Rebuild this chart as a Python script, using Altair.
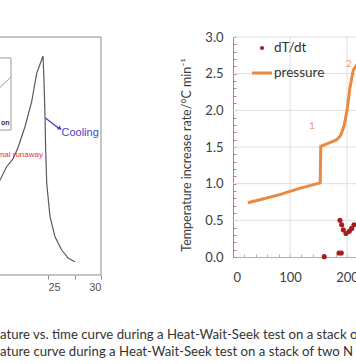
import altair as alt
import pandas as pd

# ---------------- data ----------------
# left panel: temperature (relative units) vs. time
left_time = [20.30, 20.47, 21.10, 21.73, 22.20, 22.83, 23.46, 23.93, 24.53,
             24.62, 24.72, 24.78, 24.88, 25.19, 25.66, 26.29, 26.92, 27.55]
left_temp = [39.0, 39.9, 45.5, 49.0, 53.9, 62.3, 72.8, 84.7, 92.0,
             81.9, 66.4, 52.5, 38.5, 24.5, 16.1, 10.5, 7.0, 5.6]
left_ticks = [22.5, 25, 27.5, 30]

# right panel
pressure_x = [26, 47, 82, 118, 153, 154, 170, 182, 189, 195, 200, 205, 211, 218]
pressure_y = [0.74, 0.78, 0.85, 0.94, 1.01, 1.51, 1.56, 1.60, 1.66, 1.79, 2.00, 2.30, 2.55, 2.63]
dtdt_x = [160, 186, 190, 187.7, 190.7, 193.5, 198.2, 204, 208.2, 212.3]
dtdt_y = [0.005, 0.055, 0.055, 0.50, 0.44, 0.37, 0.32, 0.35, 0.39, 0.44]
y_labels = [0, 0.5, 1.0, 1.5, 2.0, 2.5, 3.0]
y_minor = [round(i * 0.1, 1) for i in range(31)]
x_labels = [0, 100, 200, 300]
x_minor = list(range(0, 301, 20))
grid_y = [0.5, 1.0, 1.5, 2.0, 2.5, 3.0]
grid_x = [100, 200, 300]

caption1 = "ature vs. time curve during a Heat-Wait-Seek test on a stack o"
caption2 = "ature curve during a Heat-Wait-Seek test on a stack of two N"
y_title = "Temperature increase rate/°C min⁻¹"

W, H = 356, 364


def sc(domain, rng):
    return alt.Scale(domain=domain, range=rng, nice=False, zero=False)


LX = lambda: sc([25, 30], [48, 101])
LY = lambda: sc([0, 100], [275, 37])
RX = lambda: sc([0, 300], [233, 404])
RY = lambda: sc([0, 3], [257, 37])

one = pd.DataFrame({"k": [0]})

# ---------------- left panel ----------------
frame = alt.Chart(pd.DataFrame({"x0": [19], "x1": [30], "y0": [0], "y1": [100]})).mark_rect(
    fillOpacity=0, stroke="#8c8c8c", strokeWidth=1
).encode(
    x=alt.X("x0:Q", scale=LX(), axis=alt.Axis(
        values=left_ticks, labelExpr="datum.value % 5 == 0 ? datum.label : ''",
        orient="bottom", offset=-(H - 275), domain=False, tickSize=4,
        tickColor="#8c8c8c", labelColor="#555555", labelFontSize=11, labelPadding=2,
        grid=False, title=None, labelFont="Liberation Sans")),
    x2="x1:Q",
    y=alt.Y("y0:Q", scale=LY(), axis=None),
    y2="y1:Q",
)

curve_df = pd.DataFrame({"t": left_time, "T": left_temp, "i": range(len(left_time))})
curve = alt.Chart(curve_df).mark_line(color="#5a5a5a", strokeWidth=1.2).encode(
    x=alt.X("t:Q", scale=LX(), axis=None),
    y=alt.Y("T:Q", scale=LY(), axis=None),
    order="i:Q",
)

inset = alt.Chart(pd.DataFrame({"x0": [19], "x1": [21.51], "y0": [60.9], "y1": [91.2]})).mark_rect(
    fillOpacity=0, stroke="#9a9a9a", strokeWidth=1
).encode(
    x=alt.X("x0:Q", scale=LX(), axis=None), x2="x1:Q",
    y=alt.Y("y0:Q", scale=LY(), axis=None), y2="y1:Q",
)
inset_line = alt.Chart(pd.DataFrame({"a": [19.8], "b": [21.51], "c": [76.0], "d": [83.2]})).mark_rule(
    color="#9a9a9a", strokeWidth=1
).encode(
    x=alt.X("a:Q", scale=LX(), axis=None), x2="b:Q",
    y=alt.Y("c:Q", scale=LY(), axis=None), y2="d:Q",
)
inset_text = alt.Chart(one).mark_text(text="on", fontSize=7, fontWeight="bold", color="#333333",
                                      font="Liberation Sans", align="left").encode(
    x=alt.value(1), y=alt.value(123))

arrow = alt.Chart(pd.DataFrame({"a": [24.76], "b": [25.98], "c": [66.0], "d": [61.8]})).mark_rule(
    color="#3c3cc8", strokeWidth=1.2
).encode(
    x=alt.X("a:Q", scale=LX(), axis=None), x2="b:Q",
    y=alt.Y("c:Q", scale=LY(), axis=None), y2="d:Q",
)
arrow_head = alt.Chart(one).mark_point(shape="triangle-up", angle=125, filled=True, size=22,
                                       color="#3c3cc8", opacity=1).encode(
    x=alt.value(60), y=alt.value(128.5))
cooling = alt.Chart(one).mark_text(text="Cooling", fontSize=11, color="#4444cc", align="left",
                                   baseline="middle", font="Liberation Sans").encode(
    x=alt.value(61.5), y=alt.value(133))
runaway = alt.Chart(one).mark_text(text="Thermal runaway", fontSize=8, color="#e8334a", align="right",
                                   baseline="middle", font="Liberation Sans").encode(
    x=alt.value(43), y=alt.value(155))

# ---------------- right panel ----------------
hgrid = alt.Chart(pd.DataFrame({"g": grid_y})).mark_rule(color="#dedede", strokeWidth=1).encode(
    y=alt.Y("g:Q", scale=RY(), axis=alt.Axis(
        orient="left", offset=-233, values=y_labels, format=".1f", ticks=False, domain=False,
        grid=False, labelPadding=10, labelFontSize=13, labelColor="#404040", labelFont="Lato",
        title=None)),
    x=alt.X(datum=0, scale=RX(), axis=None),
    x2=alt.X2(datum=300),
)
vgrid = alt.Chart(pd.DataFrame({"g": grid_x})).mark_rule(color="#dedede", strokeWidth=1).encode(
    x=alt.X("g:Q", scale=RX(), axis=alt.Axis(
        orient="bottom", offset=-(H - 257), values=x_labels, ticks=False, domain=False,
        grid=False, labelPadding=14, labelFontSize=13, labelColor="#404040", labelFont="Lato",
        title=None)),
    y=alt.Y(datum=0, scale=RY(), axis=None),
    y2=alt.Y2(datum=3),
)

p_df = pd.DataFrame({"x": pressure_x, "y": pressure_y, "i": range(len(pressure_x))})
pressure = alt.Chart(p_df).mark_line(color="#ec8840", strokeWidth=3).encode(
    x=alt.X("x:Q", scale=RX(), axis=alt.Axis(
        orient="top", offset=-257, values=x_minor, labels=False, tickSize=3,
        tickColor="#b0b0b0", domainColor="#b0b0b0", grid=False, title=None)),
    y=alt.Y("y:Q", scale=RY(), axis=alt.Axis(
        orient="right", offset=233 - W, values=y_minor, labels=False, tickSize=3,
        tickColor="#c87878", domainColor="#c87878", grid=False, title=None)),
    order="i:Q",
)

d_df = pd.DataFrame({"x": dtdt_x, "y": dtdt_y})
dtdt = alt.Chart(d_df).mark_circle(color="#a81c1c", size=26, opacity=1).encode(
    x=alt.X("x:Q", scale=RX(), axis=None),
    y=alt.Y("y:Q", scale=RY(), axis=None),
)

lab1 = alt.Chart(one).mark_text(text="1", fontSize=10, color="#e9a071", font="Lato").encode(
    x=alt.value(312), y=alt.value(126))
lab2 = alt.Chart(one).mark_text(text="2", fontSize=10, color="#e9a071", font="Lato").encode(
    x=alt.value(349), y=alt.value(64))

leg_dot = alt.Chart(one).mark_circle(color="#a81c1c", size=18, opacity=1).encode(
    x=alt.value(262), y=alt.value(48))
leg_t1 = alt.Chart(one).mark_text(text="dT/dt", fontSize=13.5, color="#333333", align="left",
                                  baseline="middle", font="Lato").encode(
    x=alt.value(274), y=alt.value(48))
leg_line = alt.Chart(one).mark_rule(color="#ec8840", strokeWidth=3).encode(
    x=alt.value(252), x2=alt.value(272), y=alt.value(73))
leg_t2 = alt.Chart(one).mark_text(text="pressure", fontSize=13.5, color="#333333", align="left",
                                  baseline="middle", font="Lato").encode(
    x=alt.value(274), y=alt.value(73))

ytitle = alt.Chart(one).mark_text(text=y_title, fontSize=12.5, color="#404040", angle=270,
                                  align="center", baseline="middle", font="Lato").encode(
    x=alt.value(187), y=alt.value(155))

cap1 = alt.Chart(one).mark_text(text=caption1, fontSize=13.2, color="#333333", align="left",
                                baseline="middle", font="Lato").encode(
    x=alt.value(0), y=alt.value(335))
cap2 = alt.Chart(one).mark_text(text=caption2, fontSize=13.2, color="#333333", align="left",
                                baseline="middle", font="Lato").encode(
    x=alt.value(0), y=alt.value(352))

chart = alt.layer(
    frame, curve, inset, inset_line, inset_text, arrow, arrow_head, cooling, runaway,
    hgrid, vgrid, pressure, dtdt, lab1, lab2, leg_dot, leg_t1, leg_line, leg_t2, ytitle,
    cap1, cap2,
).resolve_scale(x="independent", y="independent").resolve_axis(
    x="independent", y="independent"
).properties(
    width=W, height=H, padding=0, autosize=alt.AutoSizeParams(type="none"),
    background="white",
).configure_view(stroke=None)

chart.save("out.html", embed_options={"renderer": "svg", "actions": False})
